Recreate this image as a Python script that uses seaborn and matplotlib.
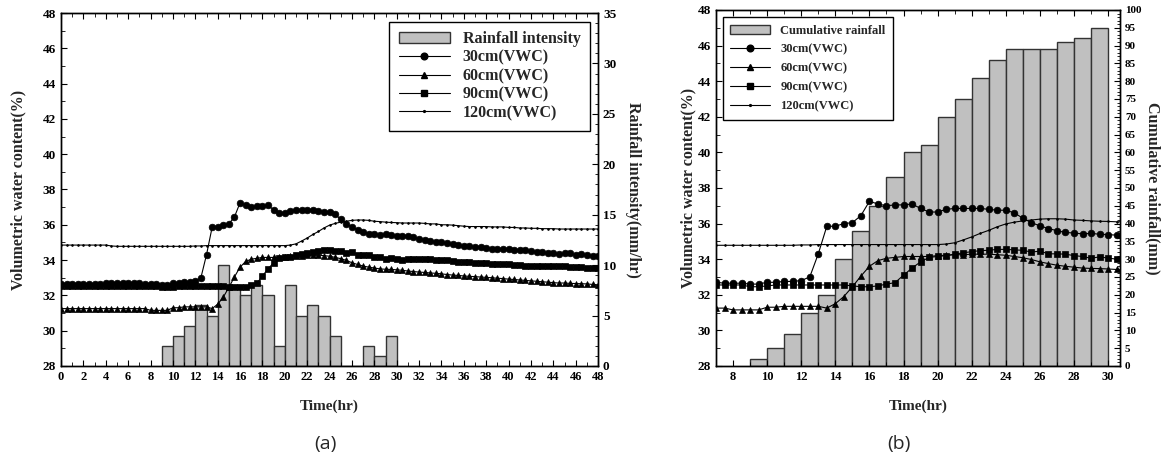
import numpy as np
import pandas as pd
import matplotlib
matplotlib.use("Agg")
import matplotlib.pyplot as plt
from matplotlib.lines import Line2D
from matplotlib.patches import Patch
from matplotlib.ticker import MultipleLocator
import seaborn as sns

# half-hourly readings, 0 to 48 hr
hours = np.arange(0, 48.5, 0.5)

vwc_30 = [
    32.65, 32.65, 32.65, 32.65, 32.65, 32.65, 32.65, 32.65, 32.7, 32.7,
    32.7, 32.7, 32.7, 32.7, 32.7, 32.65, 32.65, 32.65, 32.6, 32.6,
    32.7, 32.7, 32.75, 32.75, 32.8, 33.0, 34.3, 35.85, 35.85, 36.0,
    36.05, 36.45, 37.25, 37.1, 37.0, 37.05, 37.05, 37.1, 36.85, 36.65,
    36.65, 36.8, 36.85, 36.85, 36.85, 36.85, 36.8, 36.75, 36.75, 36.6,
    36.3, 36.05, 35.87, 35.72, 35.6, 35.5, 35.47, 35.42, 35.45, 35.4,
    35.38, 35.35, 35.35, 35.3, 35.2, 35.15, 35.1, 35.05, 35.0, 34.95,
    34.9, 34.85, 34.8, 34.8, 34.75, 34.72, 34.7, 34.65, 34.62, 34.6,
    34.6, 34.57, 34.55, 34.55, 34.5, 34.48, 34.45, 34.4, 34.38, 34.32,
    34.4, 34.38, 34.3, 34.35, 34.28, 34.25,
    34.22,
]

vwc_60 = [
    31.25, 31.25, 31.25, 31.25, 31.25, 31.25, 31.25, 31.25, 31.25, 31.25,
    31.25, 31.25, 31.25, 31.25, 31.25, 31.25, 31.15, 31.15, 31.15, 31.15,
    31.3, 31.3, 31.35, 31.35, 31.35, 31.35, 31.35, 31.25, 31.5, 31.9,
    32.45, 33.05, 33.6, 33.92, 34.05, 34.1, 34.15, 34.15, 34.15, 34.15,
    34.2, 34.22, 34.25, 34.25, 34.28, 34.28, 34.28, 34.25, 34.22, 34.15,
    34.08, 33.98, 33.85, 33.75, 33.66, 33.6, 33.55, 33.5, 33.48, 33.47,
    33.45, 33.42, 33.38, 33.35, 33.32, 33.3, 33.27, 33.25, 33.22, 33.18,
    33.15, 33.13, 33.1, 33.08, 33.06, 33.04, 33.02, 33.0, 32.97, 32.95,
    32.92, 32.9, 32.87, 32.85, 32.82, 32.8, 32.77, 32.75, 32.72, 32.7,
    32.7, 32.68, 32.67, 32.66, 32.65, 32.62,
    32.6,
]

vwc_90 = [
    32.55, 32.55, 32.55, 32.55, 32.55, 32.55, 32.55, 32.55, 32.55, 32.55,
    32.55, 32.55, 32.55, 32.55, 32.55, 32.55, 32.55, 32.55, 32.45, 32.45,
    32.5, 32.55, 32.55, 32.55, 32.55, 32.55, 32.55, 32.55, 32.55, 32.55,
    32.5, 32.45, 32.45, 32.5, 32.6, 32.68, 33.1, 33.5, 33.85, 34.1,
    34.15, 34.2, 34.28, 34.36, 34.42, 34.48, 34.5, 34.55, 34.55, 34.52,
    34.5, 34.4, 34.45, 34.3, 34.3, 34.28, 34.2, 34.15, 34.05, 34.13,
    34.06, 34.0, 34.05, 34.05, 34.05, 34.05, 34.04, 34.02, 34.0, 33.98,
    33.92, 33.9, 33.88, 33.87, 33.86, 33.85, 33.82, 33.8, 33.78, 33.78,
    33.75, 33.72, 33.7, 33.68, 33.67, 33.67, 33.67, 33.67, 33.67, 33.66,
    33.65, 33.6, 33.6, 33.58, 33.56, 33.55,
    33.54,
]

vwc_120 = [
    34.85, 34.85, 34.85, 34.85, 34.85, 34.85, 34.85, 34.85, 34.85, 34.8,
    34.78, 34.78, 34.78, 34.78, 34.78, 34.78, 34.78, 34.78, 34.78, 34.78,
    34.78, 34.78, 34.78, 34.78, 34.8, 34.8, 34.82, 34.82, 34.82, 34.82,
    34.82, 34.82, 34.82, 34.82, 34.82, 34.82, 34.82, 34.82, 34.82, 34.82,
    34.82, 34.85, 34.92, 35.08, 35.25, 35.45, 35.62, 35.82, 35.98, 36.08,
    36.15, 36.2, 36.25, 36.27, 36.27, 36.25, 36.2, 36.18, 36.15, 36.13,
    36.12, 36.1, 36.1, 36.1, 36.1, 36.08, 36.05, 36.05, 36.0, 36.0,
    35.98, 35.95, 35.92, 35.9, 35.9, 35.9, 35.9, 35.88, 35.88, 35.88,
    35.85, 35.85, 35.82, 35.82, 35.8, 35.8, 35.78, 35.78, 35.78, 35.76,
    35.76, 35.76, 35.76, 35.76, 35.76, 35.76,
    35.76,
]

# hourly rainfall, bar for hour h covers h..h+1
rain_hour = list(range(9, 30))
rain_intensity = [2, 3, 4, 6, 5, 10, 8, 7, 8, 7, 2, 8, 5, 6, 5, 3, 0, 0, 2, 1, 3]
rain_cumulative = [2, 5, 9, 15, 20, 30, 38, 45, 53, 60, 62, 70, 75, 81, 86, 89, 89, 89, 91, 92, 95]

series_labels = ["30cm(VWC)", "60cm(VWC)", "90cm(VWC)", "120cm(VWC)"]
series_markers = ["o", "^", "s", "."]
series_sizes = [4.8, 5.0, 4.4, 2.6]

BAR_COLOR = "#c0c0c0"
BAR_EDGE = "#333333"

sns.set_style("ticks")
plt.rcParams["font.family"] = ["Liberation Serif", "DejaVu Serif"]
plt.rcParams["font.weight"] = "bold"
plt.rcParams["axes.labelweight"] = "bold"
plt.rcParams["axes.edgecolor"] = "black"
plt.rcParams["axes.linewidth"] = 1.0
plt.rcParams["xtick.color"] = "black"
plt.rcParams["ytick.color"] = "black"


def draw_panel(ax, xlim, bar_vals, bar_ylim, bar_label, legend_name, legend_anchor,
               legend_loc, legend_size, legend_gap, left_pad, right_pad, right_size):
    axr = ax.twinx()
    bars = pd.DataFrame({"mid": np.array(rain_hour) + 0.5, "val": bar_vals})
    sns.histplot(data=bars, x="mid", weights="val", binwidth=1, binrange=(9, 30),
                 ax=axr, color=BAR_COLOR, edgecolor=BAR_EDGE, linewidth=1.0, alpha=1)
    axr.set_ylim(*bar_ylim)
    axr.yaxis.set_major_locator(MultipleLocator(5))
    axr.yaxis.set_minor_locator(MultipleLocator(1))
    axr.set_ylabel(bar_label, rotation=270, fontsize=11.5, labelpad=right_pad)
    axr.tick_params(which="both", direction="in", right=True, labelsize=right_size)
    axr.tick_params(which="major", length=4)
    axr.tick_params(which="minor", length=2.5)

    for vals, mk, ms in zip([vwc_30, vwc_60, vwc_90, vwc_120], series_markers, series_sizes):
        sns.lineplot(x=hours, y=vals, ax=ax, color="black", linewidth=0.8,
                     marker=mk, markersize=ms, markeredgecolor="black",
                     markeredgewidth=0.5, estimator=None)

    ax.set_zorder(axr.get_zorder() + 1)
    ax.patch.set_visible(False)
    ax.set_xlim(*xlim)
    ax.set_ylim(28, 48)
    ax.yaxis.set_major_locator(MultipleLocator(2))
    ax.yaxis.set_minor_locator(MultipleLocator(1))
    ax.xaxis.set_major_locator(MultipleLocator(2))
    ax.xaxis.set_minor_locator(MultipleLocator(1))
    ax.tick_params(which="both", direction="in", top=True, right=False)
    ax.tick_params(axis="y", labelsize=9.5)
    ax.tick_params(axis="x", labelsize=9)
    ax.tick_params(which="major", length=4)
    ax.tick_params(which="minor", length=3)
    ax.set_xlabel("Time(hr)", fontsize=11, labelpad=12)
    ax.set_ylabel("Volumetric water content(%)", fontsize=11.5, labelpad=left_pad)

    handles = [Patch(facecolor=BAR_COLOR, edgecolor=BAR_EDGE, linewidth=1.0, label=legend_name)]
    for lab, mk, ms in zip(series_labels, series_markers, series_sizes):
        handles.append(Line2D([], [], color="black", linewidth=0.8, marker=mk,
                              markersize=ms, label=lab))
    leg = ax.legend(handles=handles, loc=legend_loc, bbox_to_anchor=legend_anchor,
                    fontsize=legend_size, frameon=True, fancybox=False, framealpha=1,
                    edgecolor="black", borderaxespad=0, handlelength=3.2,
                    labelspacing=legend_gap, borderpad=0.6)
    leg.get_frame().set_linewidth(1.0)
    return axr


fig = plt.figure(figsize=(11.65, 4.65), dpi=100)
ax_a = fig.add_axes([0.0524, 0.213, 0.461, 0.759])
ax_b = fig.add_axes([0.6146, 0.213, 0.3468, 0.7655])

draw_panel(ax_a, (0, 48), rain_intensity, (0, 35), "Rainfall intensity(mm/hr)",
           "Rainfall intensity", (0.985, 0.975), "upper right", 11.5, 0.15, 12, 18, 9.5)
draw_panel(ax_b, (7, 30.7), rain_cumulative, (0, 100), "Cumulative rainfall(mm)",
           "Cumulative rainfall", (0.017, 0.98), "upper left", 9, 0.55, 1, 14, 8)

fig.text(0.270, 0.035, "(a)", fontsize=14, fontweight="normal", family="Open Sans")
fig.text(0.762, 0.035, "(b)", fontsize=14, fontweight="normal", family="Open Sans")

fig.savefig("out.png", dpi=100)
